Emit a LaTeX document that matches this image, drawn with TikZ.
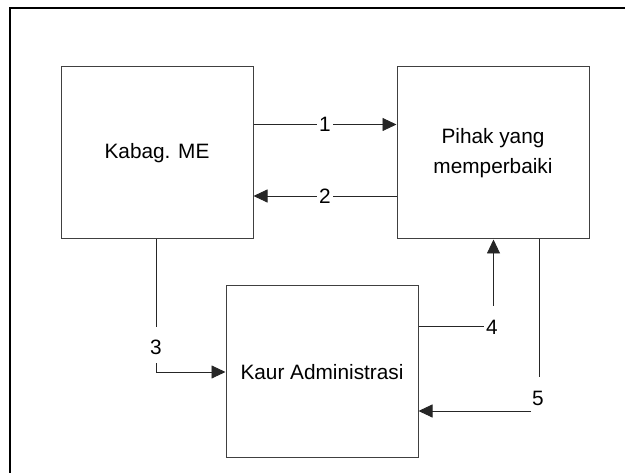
\documentclass[tikz,border=0pt]{standalone}
\usepackage{fontspec}
\setmainfont{Liberation Sans}
\usetikzlibrary{arrows.meta}
\begin{document}
\begin{tikzpicture}[x=1pt,y=-1pt,
  unit/.style={draw=black!75,line width=1pt,minimum width=192pt,minimum height=172pt,
    inner sep=0pt,align=center,font=\fontsize{20.8}{29.5}\selectfont},
  flow/.style={line width=0.9pt,black!85},
  tip/.style={-{Triangle[length=14pt,width=13pt]}},
  num/.style={inner xsep=2.5pt,inner ysep=0pt,font=\fontsize{20.8}{24}\selectfont}]
\useasboundingbox (0,0) rectangle (625,473);
% frame edges
\draw[line width=1.2pt] (10,473) -- (10,8) -- (625,8);

% units
\node[unit] (kabag) at (157,153) {Kabag. ME};
\node[unit] (pihak) at (493,153) {Pihak yang\\memperbaiki};
\node[unit] (kaur) at (322,372) {Kaur Administrasi};

% labels
\node[num] (n1) at (325,124.5) {1};
\node[num] (n2) at (325,196) {2};
\node[num] (n3) at (156,347.5) {3};
\node[num] (n4) at (492,327) {4};
\node[num] (n5) at (538,398) {5};

% 1: Kabag -> Pihak
\draw[flow] (kabag.east |- n1) -- (n1.west);
\draw[flow,tip] (n1.east) -- (pihak.west |- n1);
% 2: Pihak -> Kabag
\draw[flow] (pihak.west |- n2) -- (n2.east);
\draw[flow,tip] (n2.west) -- (kabag.east |- n2);
% 3: Kabag -> Kaur
\coordinate (c3a) at (156,327);
\coordinate (c3b) at (156,363.5);
\draw[flow] (kabag.south -| c3a) -- (c3a);
\draw[flow,tip] (c3b) -- (156,372) -- (kaur.west);
% 4: Kaur -> Pihak
\coordinate (c4a) at (484,326);
\coordinate (c4b) at (493.5,306);
\draw[flow] (kaur.east |- c4a) -- (c4a);
\draw[flow,tip] (c4b) -- (pihak.south -| c4b);
% 5: Pihak -> Kaur
\coordinate (c5a) at (539,377);
\coordinate (c5b) at (531,411);
\draw[flow] (pihak.south -| c5a) -- (c5a);
\draw[flow,tip] (c5b) -- (kaur.east |- c5b);
\end{tikzpicture}
\end{document}
